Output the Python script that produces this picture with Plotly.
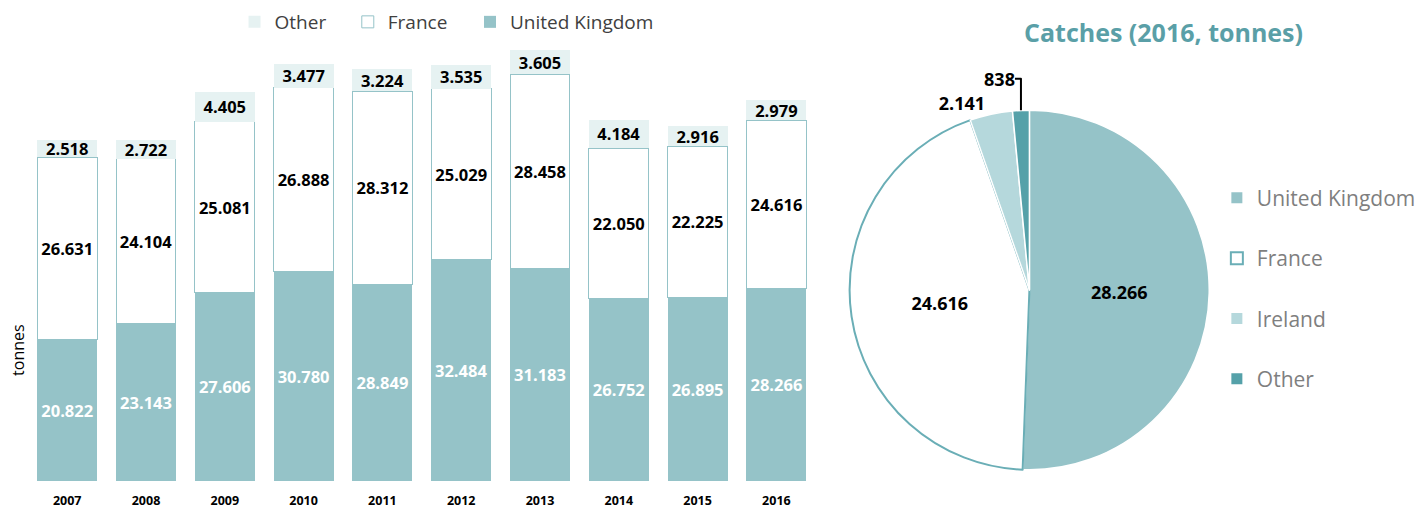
import plotly.graph_objects as go

years = ["2007", "2008", "2009", "2010", "2011", "2012", "2013", "2014", "2015", "2016"]
uk = [20822, 23143, 27606, 30780, 28849, 32484, 31183, 26752, 26895, 28266]
france = [26631, 24104, 25081, 26888, 28312, 25029, 28458, 22050, 22225, 24616]
other = [2518, 2722, 4405, 3477, 3224, 3535, 3605, 4184, 2916, 2979]

pie_labels = ["United Kingdom", "France", "Ireland", "Other"]
pie_values = [28266, 24616, 2141, 838]

C_UK = "#95c3c8"
C_FR = "#ffffff"
C_FR_LINE = "#6aaeb6"
C_OTHER_BAR = "#e6f2f2"
C_IRL = "#b5d8dc"
C_OTHER_PIE = "#55a1a9"
FONT = "Open Sans"

fig = go.Figure()

fig.add_trace(go.Bar(
    x=years, y=uk, name="United Kingdom",
    marker=dict(color=C_UK, line=dict(width=0)),
    texttemplate="%{y:,}", textposition="inside", insidetextanchor="middle",
    textfont=dict(color="white", size=16.5, family=FONT, weight="bold"),
    legend="legend5",
))
fig.add_trace(go.Bar(
    x=years, y=france, name="France",
    marker=dict(color=C_FR, line=dict(width=1, color=C_UK)),
    texttemplate="%{y:,}", textposition="inside", insidetextanchor="middle",
    textfont=dict(color="black", size=16.5, family=FONT, weight="bold"),
    legend="legend4",
))
fig.add_trace(go.Bar(
    x=years, y=other, name="Other",
    marker=dict(color=C_OTHER_BAR, line=dict(width=0)),
    texttemplate="%{y:,}", textposition="inside", insidetextanchor="middle",
    constraintext="none",
    textfont=dict(color="black", size=16.5, family=FONT, weight="bold"),
    legend="legend3",
))

fig.add_trace(go.Pie(
    labels=pie_labels, values=pie_values, sort=False, direction="clockwise",
    rotation=0,
    marker=dict(colors=[C_UK, C_FR, C_IRL, C_OTHER_PIE],
                line=dict(color=["white", C_FR_LINE, "white", "white"], width=[1.5, 2, 1.5, 1.5])),
    texttemplate="%{value:,}",
    textposition=["inside", "inside", "outside", "outside"],
    textfont=dict(color="black", size=18, family=FONT, weight="bold"),
    insidetextorientation="horizontal",
    domain=dict(x=[0.6017, 0.8564], y=[0.022, 0.827]),
    showlegend=False,
    hoverinfo="label+value",
))

# legend entries for the pie
pie_leg_styles = [
    dict(symbol="square", size=11, color=C_UK),
    dict(symbol="square", size=12, color="white", line=dict(color=C_FR_LINE, width=2)),
    dict(symbol="square", size=11, color=C_IRL),
    dict(symbol="square", size=11, color=C_OTHER_PIE),
]
for lab, st in zip(pie_labels, pie_leg_styles):
    fig.add_trace(go.Scatter(
        x=[None], y=[None], mode="markers", name=lab, marker=st,
        legend="legend2", legendgroup=lab, showlegend=True, hoverinfo="skip",
    ))

top_leg = dict(orientation="h", xanchor="left", y=1.02, yanchor="middle",
               font=dict(size=19, color="#404040"), bgcolor="rgba(0,0,0,0)")

fig.update_layout(
    width=1421, height=511,
    barmode="stack", bargap=0.24,
    separators=",.",
    plot_bgcolor="white", paper_bgcolor="white",
    margin=dict(l=0, r=0, t=31, b=30),
    font=dict(family=FONT, color="#404040"),
    xaxis=dict(domain=[28 / 1421, 821 / 1421], showline=False, showgrid=False,
               ticks="", ticklabelstandoff=10,
               tickfont=dict(size=12.5, color="black", family=FONT, weight="bold"),
               fixedrange=True),
    yaxis=dict(range=[0, 66000], visible=False, fixedrange=True),
    legend3=dict(x=236 / 1421, **top_leg),
    legend4=dict(x=350 / 1421, **top_leg),
    legend5=dict(x=473 / 1421, **top_leg),
    legend2=dict(orientation="v", x=0.8618, xanchor="left", y=0.674, yanchor="top",
                 traceorder="grouped", tracegroupgap=30,
                 font=dict(size=21, color="#7f7f7f"), bgcolor="rgba(0,0,0,0)"),
    showlegend=True,
    annotations=[
        dict(text="tonnes", x=18 / 1421, y=0.291, xref="paper", yref="paper",
             xanchor="center", yanchor="middle",
             textangle=-90, showarrow=False, font=dict(size=16, color="black")),
        dict(text="<b>Catches (2016, tonnes)</b>", x=1171 / 1421, y=0.9978,
             xref="paper", yref="paper", showarrow=False, xanchor="center", yanchor="middle",
             font=dict(size=25, color="#5a9fa7")),
    ],
)

fig.write_html("out.html")
